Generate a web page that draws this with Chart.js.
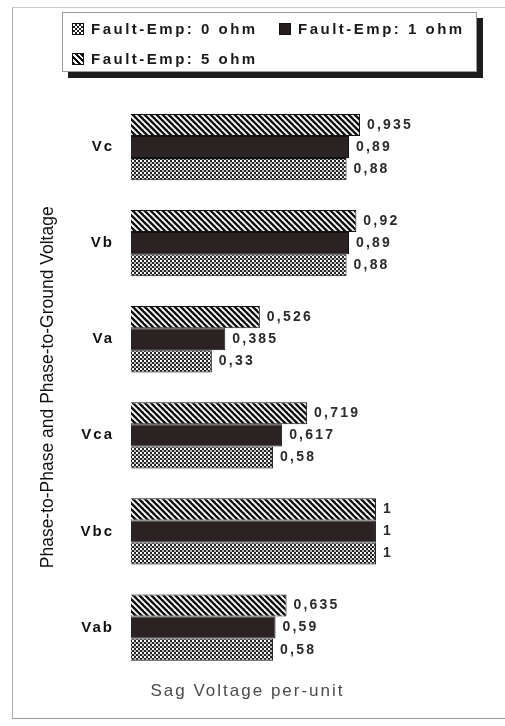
<!DOCTYPE html>
<html>
<head>
<meta charset="utf-8">
<script src="https://cdn.jsdelivr.net/npm/chart.js@4.4.1/dist/chart.umd.min.js"></script>
<style>
    body { margin: 0; background: #fff; }
    #wrap { position: relative; width: 505px; height: 726px; overflow: hidden; font-family: "Liberation Sans", Arial, sans-serif; }
    #frame { position: absolute; left: 12px; top: 7px; width: 500px; height: 710px; border-left: 1px solid #aaa; border-top: 1px solid #ccc; border-bottom: 1px solid #999; pointer-events: none; }
    #legend { position: absolute; left: 62px; top: 12px; width: 415px; height: 60px; box-sizing: border-box; border: 1px solid #999; box-shadow: 6px 6px 0 #1c1c1c; background: #fff; }
    .item-icon { position: absolute; width: 12px; height: 12px; box-sizing: border-box; border: 1px solid #111; }
    .item-text { position: absolute; font-size: 15px; font-weight: bold; letter-spacing: 2.5px; color: #1a1a1a; line-height: 18px; white-space: nowrap; }
    .pat-check { background: repeating-conic-gradient(#222 0 25%, #fff 0 50%) 0 0 / 4px 4px; }
    .pat-solid { background: #241e1e; }
    .pat-hatch { background: repeating-linear-gradient(45deg, #111 0 2px, #fff 2px 4px); }
    #chart-box { position: absolute; left: 0; top: 0; width: 505px; height: 726px; }
</style>
</head>
<body>
<div id="wrap">
    <div id="frame"></div>
    <div id="chart-box"><canvas id="sag-chart"></canvas></div>
    <div id="legend"></div>
</div>
<script>
// categories, top to bottom
const categories = ['Vc', 'Vb', 'Va', 'Vca', 'Vbc', 'Vab'];

// sag voltage per-unit for each fault impedance
const ohm0 = [0.88, 0.88, 0.33, 0.58, 1, 0.58];
const ohm1 = [0.89, 0.89, 0.385, 0.617, 1, 0.59];
const ohm5 = [0.935, 0.92, 0.526, 0.719, 1, 0.635];

const seriesNames = ['Fault-Emp: 0 ohm', 'Fault-Emp: 1 ohm', 'Fault-Emp: 5 ohm'];
const yTitle = 'Phase-to-Phase and Phase-to-Ground Voltage';
const xTitle = 'Sag Voltage per-unit';

function makeHatch() {
    const c = document.createElement('canvas');
    c.width = 6; c.height = 6;
    const g = c.getContext('2d');
    g.fillStyle = '#fff';
    g.fillRect(0, 0, 6, 6);
    g.strokeStyle = '#111';
    g.lineWidth = 2.4;
    for (let x0 = -6; x0 <= 6; x0 += 6) {
        g.beginPath();
        g.moveTo(x0 - 1, -1);
        g.lineTo(x0 + 7, 7);
        g.stroke();
    }
    return g.createPattern(c, 'repeat');
}

function makeCheck() {
    // dark ground with white dots, staggered
    const c = document.createElement('canvas');
    c.width = 4; c.height = 4;
    const g = c.getContext('2d');
    g.fillStyle = '#232323';
    g.fillRect(0, 0, 4, 4);
    g.fillStyle = '#fff';
    g.fillRect(0, 0, 2, 2);
    g.fillStyle = '#bbb';
    g.fillRect(2, 2, 2, 2);
    return g.createPattern(c, 'repeat');
}

// html legend
const legendEl = document.getElementById('legend');
const legendItems = [
    { cls: 'pat-check', text: seriesNames[0], x: 9, y: 16 },
    { cls: 'pat-solid', text: seriesNames[1], x: 216, y: 16 },
    { cls: 'pat-hatch', text: seriesNames[2], x: 9, y: 46 }
];
legendItems.forEach(it => {
    legendEl.innerHTML += `
        <div class="item-icon ${it.cls}" style="left:${it.x}px; top:${it.y - 6}px"></div>
        <div class="item-text" style="left:${it.x + 19}px; top:${it.y - 9}px">${it.text}</div>`;
});

const fmt = v => String(v).replace('.', ',');

// value labels + rotated y title
const labelPlugin = {
    id: 'labels',
    beforeDraw(chart) {
        chart.ctx.letterSpacing = '2px';
    },
    afterDatasetsDraw(chart) {
        const ctx = chart.ctx;
        ctx.save();
        ctx.letterSpacing = '2.2px';
        ctx.font = 'bold 14px "Liberation Sans", Arial, sans-serif';
        ctx.fillStyle = '#2a2a2a';
        ctx.textAlign = 'left';
        ctx.textBaseline = 'middle';
        chart.data.datasets.forEach((ds, i) => {
            chart.getDatasetMeta(i).data.forEach((bar, j) => {
                ctx.fillText(fmt(ds.data[j]), bar.x + 7, bar.y);
            });
        });
        ctx.restore();
    },
    afterDraw(chart) {
        const ctx = chart.ctx;
        const area = chart.chartArea;
        ctx.save();
        ctx.letterSpacing = '0px';
        ctx.font = '17.5px "Liberation Sans", Arial, sans-serif';
        ctx.fillStyle = '#111';
        ctx.translate(48, (area.top + area.bottom) / 2);
        ctx.rotate(-Math.PI / 2);
        ctx.textAlign = 'center';
        ctx.textBaseline = 'middle';
        ctx.fillText(yTitle, 0, 0);
        ctx.restore();
    }
};

new Chart(document.getElementById('sag-chart'), {
    type: 'bar',
    data: {
        labels: categories,
        datasets: [
            { label: seriesNames[2], data: ohm5, backgroundColor: makeHatch() },
            { label: seriesNames[1], data: ohm1, backgroundColor: '#2b2323' },
            { label: seriesNames[0], data: ohm0, backgroundColor: makeCheck() }
        ].map(d => Object.assign(d, { borderColor: '#111', borderWidth: 1, categoryPercentage: 0.69, barPercentage: 1 }))
    },
    options: {
        indexAxis: 'y',
        responsive: true,
        maintainAspectRatio: false,
        animation: false,
        layout: { padding: { top: 99, right: 10, bottom: 24, left: 0 } },
        scales: {
            x: { display: false, min: 0, max: 1.486 },
            y: {
                grid: { display: false, drawTicks: false },
                border: { display: false },
                ticks: {
                    padding: 17,
                    color: '#111',
                    font: { family: '"Liberation Sans", Arial, sans-serif', size: 15, weight: 'bold' }
                },
                afterFit(scale) { scale.width = 131; }
            }
        },
        plugins: {
            legend: { display: false },
            tooltip: { enabled: false },
            title: {
                display: true,
                position: 'bottom',
                text: xTitle,
                color: '#4a4a4a',
                font: { family: '"Liberation Sans", Arial, sans-serif', size: 17, weight: 'normal' },
                padding: { top: 6, bottom: 0 }
            }
        }
    },
    plugins: [labelPlugin]
});
</script>
</body>
</html>
